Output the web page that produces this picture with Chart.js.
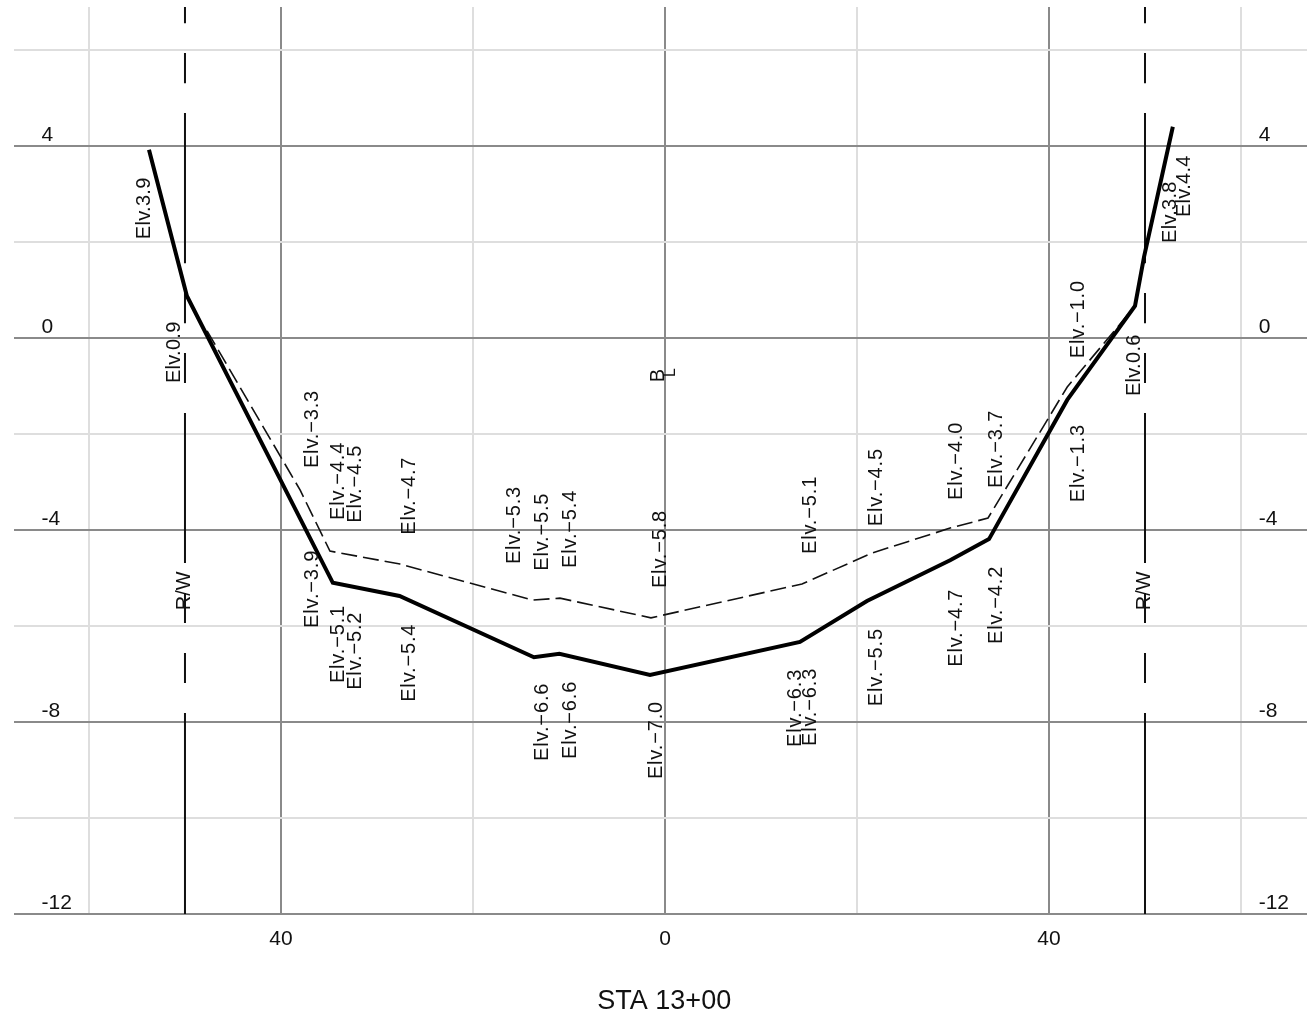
<!DOCTYPE html>
<html><head><meta charset="utf-8">
<script src="https://cdn.jsdelivr.net/npm/chart.js@4"></script>
<style>html,body{margin:0;padding:0;background:#fff}canvas{display:block}</style>
</head><body>
<div style="width:1307px;height:1014px"><canvas id="c"></canvas></div>
<script>
const existingX = [-53.75,-49.8,-34.6,-27.65,-13.65,-11.0,-1.56,14.06,21.04,29.7,33.75,41.9,48.96,49.9,52.9];
const existingY = [3.92,0.875,-5.1,-5.375,-6.65,-6.58,-7.02,-6.33,-5.48,-4.63,-4.19,-1.29,0.67,1.69,4.4];
const proposedX = [-47.7,-38.0,-34.9,-27.6,-13.75,-10.94,-1.46,14.27,21.56,29.7,33.65,41.9,46.9,48.96];
const proposedY = [0.15,-3.17,-4.44,-4.71,-5.46,-5.42,-5.83,-5.125,-4.48,-3.96,-3.75,-1.02,0.17,0.67];
const rowY = [6.9,6.56,null,5.94,5.31,null,4.69,1.56,null,0.94,0.31,null,-0.31,-0.94,null,-1.56,-4.69,null,-5.31,-5.94,null,-6.56,-7.19,null,-7.81,-12];
const rowLeftX = -50, rowRightX = 50;
const xTickValues = [-60,-40,-20,0,20,40,60];
const xTickLabels = {'-40':'40','0':'0','40':'40'};
const yTickValues = [-12,-10,-8,-6,-4,-2,0,2,4,6];
const yTickLabels = {'-12':'-12','-8':'-8','-4':'-4','0':'0','4':'4'};
const elvText = ['Elv.3.9','Elv.0.9','Elv.−3.3','Elv.−3.9','Elv.−4.4','Elv.−4.5','Elv.−5.1','Elv.−5.2','Elv.−4.7','Elv.−5.4','Elv.−5.3','Elv.−5.5','Elv.−5.4','Elv.−5.8','Elv.−6.6','Elv.−6.6','Elv.−7.0','Elv.−5.1','Elv.−4.5','Elv.−4.0','Elv.−3.7','Elv.−6.3','Elv.−6.3','Elv.−5.5','Elv.−4.7','Elv.−4.2','Elv.−1.0','Elv.−1.3','Elv.0.6','Elv.3.8','Elv.4.4','R/W','R/W','B','L'];
const elvX = [-54.4,-51.25,-36.9,-36.9,-34.2,-32.4,-34.2,-32.4,-26.8,-26.8,-15.8,-12.9,-10.0,-0.6,-12.9,-10.0,-1.04,15.0,21.9,30.2,34.4,13.44,15.0,21.9,30.2,34.4,42.9,42.9,48.8,52.5,54.0,-50.25,49.75,-0.83,0.47];
const elvY = [2.06,-0.94,-2.71,-6.04,-3.79,-3.85,-7.19,-7.33,-4.10,-7.58,-4.71,-4.85,-4.79,-5.21,-8.81,-8.77,-9.19,-4.5,-3.92,-3.375,-3.125,-8.52,-8.5,-7.67,-6.85,-6.375,-0.42,-3.42,-1.21,1.98,2.52,-5.67,-5.67,-0.92,-0.81];
const stationTitle = '\u00A0STA 13+00';

const zip = (xs, ys) => xs.map((x, i) => ({x, y: ys[i]}));
const rowLine = x => rowY.map(y => ({x, y: y === null ? NaN : y}));
const major = v => v === -40 || v === 0 || v === 40;
const yMajor = v => v % 4 === 0;
const GRAY = '#8a8a8a', LIGHT = '#dedede';
const zeroFit = s => { s.width = 0; s.paddingTop = 0; s.paddingBottom = 0; s.paddingLeft = 0; s.paddingRight = 0; };

const rotatedLabels = {
  id: 'rotatedLabels',
  afterDatasetsDraw(chart) {
    const {ctx, scales: {x, y}} = chart;
    ctx.save();
    ctx.fillStyle = '#111';
    ctx.textAlign = 'left';
    ctx.textBaseline = 'alphabetic';
    elvText.forEach((t, i) => {
      const size = t === 'L' ? 16 : 20;
      ctx.save();
      ctx.font = size + 'px "Liberation Sans"';
      ctx.letterSpacing = t.includes('−') ? '0.85px' : t.startsWith('Elv') ? '0.3px' : '0px';
      ctx.translate(x.getPixelForValue(elvX[i]), y.getPixelForValue(elvY[i]));
      ctx.rotate(-Math.PI / 2);
      ctx.fillText(t, 0, size * 0.35);
      ctx.restore();
    });
    ctx.restore();
  }
};

new Chart(document.getElementById('c'), {
  type: 'scatter',
  data: {datasets: [
    {data: rowLine(rowLeftX), showLine: true, borderColor: '#111', borderWidth: 2, pointRadius: 0, spanGaps: false, order: 3},
    {data: rowLine(rowRightX), showLine: true, borderColor: '#111', borderWidth: 2, pointRadius: 0, spanGaps: false, order: 3},
    {data: zip(proposedX, proposedY), showLine: true, borderColor: '#111', borderWidth: 1.6, borderDash: [16, 6], pointRadius: 0, order: 2},
    {data: zip(existingX, existingY), showLine: true, borderColor: '#000', borderWidth: 4, pointRadius: 0, order: 1}
  ]},
  plugins: [rotatedLabels],
  options: {
    responsive: true, maintainAspectRatio: false, animation: false,
    layout: {autoPadding: false, padding: {left: 14, top: 7, right: 0, bottom: 0}},
    plugins: {legend: {display: false}, tooltip: {enabled: false}},
    scales: {
      x: {
        type: 'linear', min: -67.81, max: 66.875,
        afterBuildTicks: s => { s.ticks = xTickValues.map(value => ({value})); },
        afterFit: s => { s.height = 100; s.paddingLeft = 0; s.paddingRight = 0; },
        border: {display: false},
        grid: {drawTicks: false, lineWidth: 2, color: c => major(c.tick.value) ? GRAY : LIGHT},
        ticks: {autoSkip: false, maxRotation: 0, padding: 13, color: '#111', font: {family: '"Liberation Sans"', size: 21},
          callback: v => xTickLabels[v] ?? ''},
        title: {display: true, text: stationTitle, color: '#111', font: {family: '"Liberation Sans"', size: 27}, padding: {top: 34, bottom: -4}}
      },
      y: {
        type: 'linear', min: -12, max: 6.896, position: 'left',
        afterBuildTicks: s => { s.ticks = yTickValues.map(value => ({value})); },
        afterFit: zeroFit,
        border: {display: false},
        grid: {drawTicks: false, lineWidth: 2, color: c => yMajor(c.tick.value) ? GRAY : LIGHT},
        ticks: {autoSkip: false, mirror: true, padding: 27.5, labelOffset: -10.5, color: '#111', font: {family: '"Liberation Sans"', size: 21},
          callback: v => yTickLabels[v] ?? ''}
      },
      y2: {
        type: 'linear', min: -12, max: 6.896, position: 'right',
        afterBuildTicks: s => { s.ticks = yTickValues.map(value => ({value})); },
        afterFit: zeroFit,
        border: {display: false},
        grid: {display: false, drawTicks: false},
        ticks: {autoSkip: false, mirror: true, crossAlign: 'far', padding: -18, labelOffset: -10.5, color: '#111', font: {family: '"Liberation Sans"', size: 21},
          callback: v => yTickLabels[v] ?? ''}
      }
    }
  }
});
</script>
</body></html>
